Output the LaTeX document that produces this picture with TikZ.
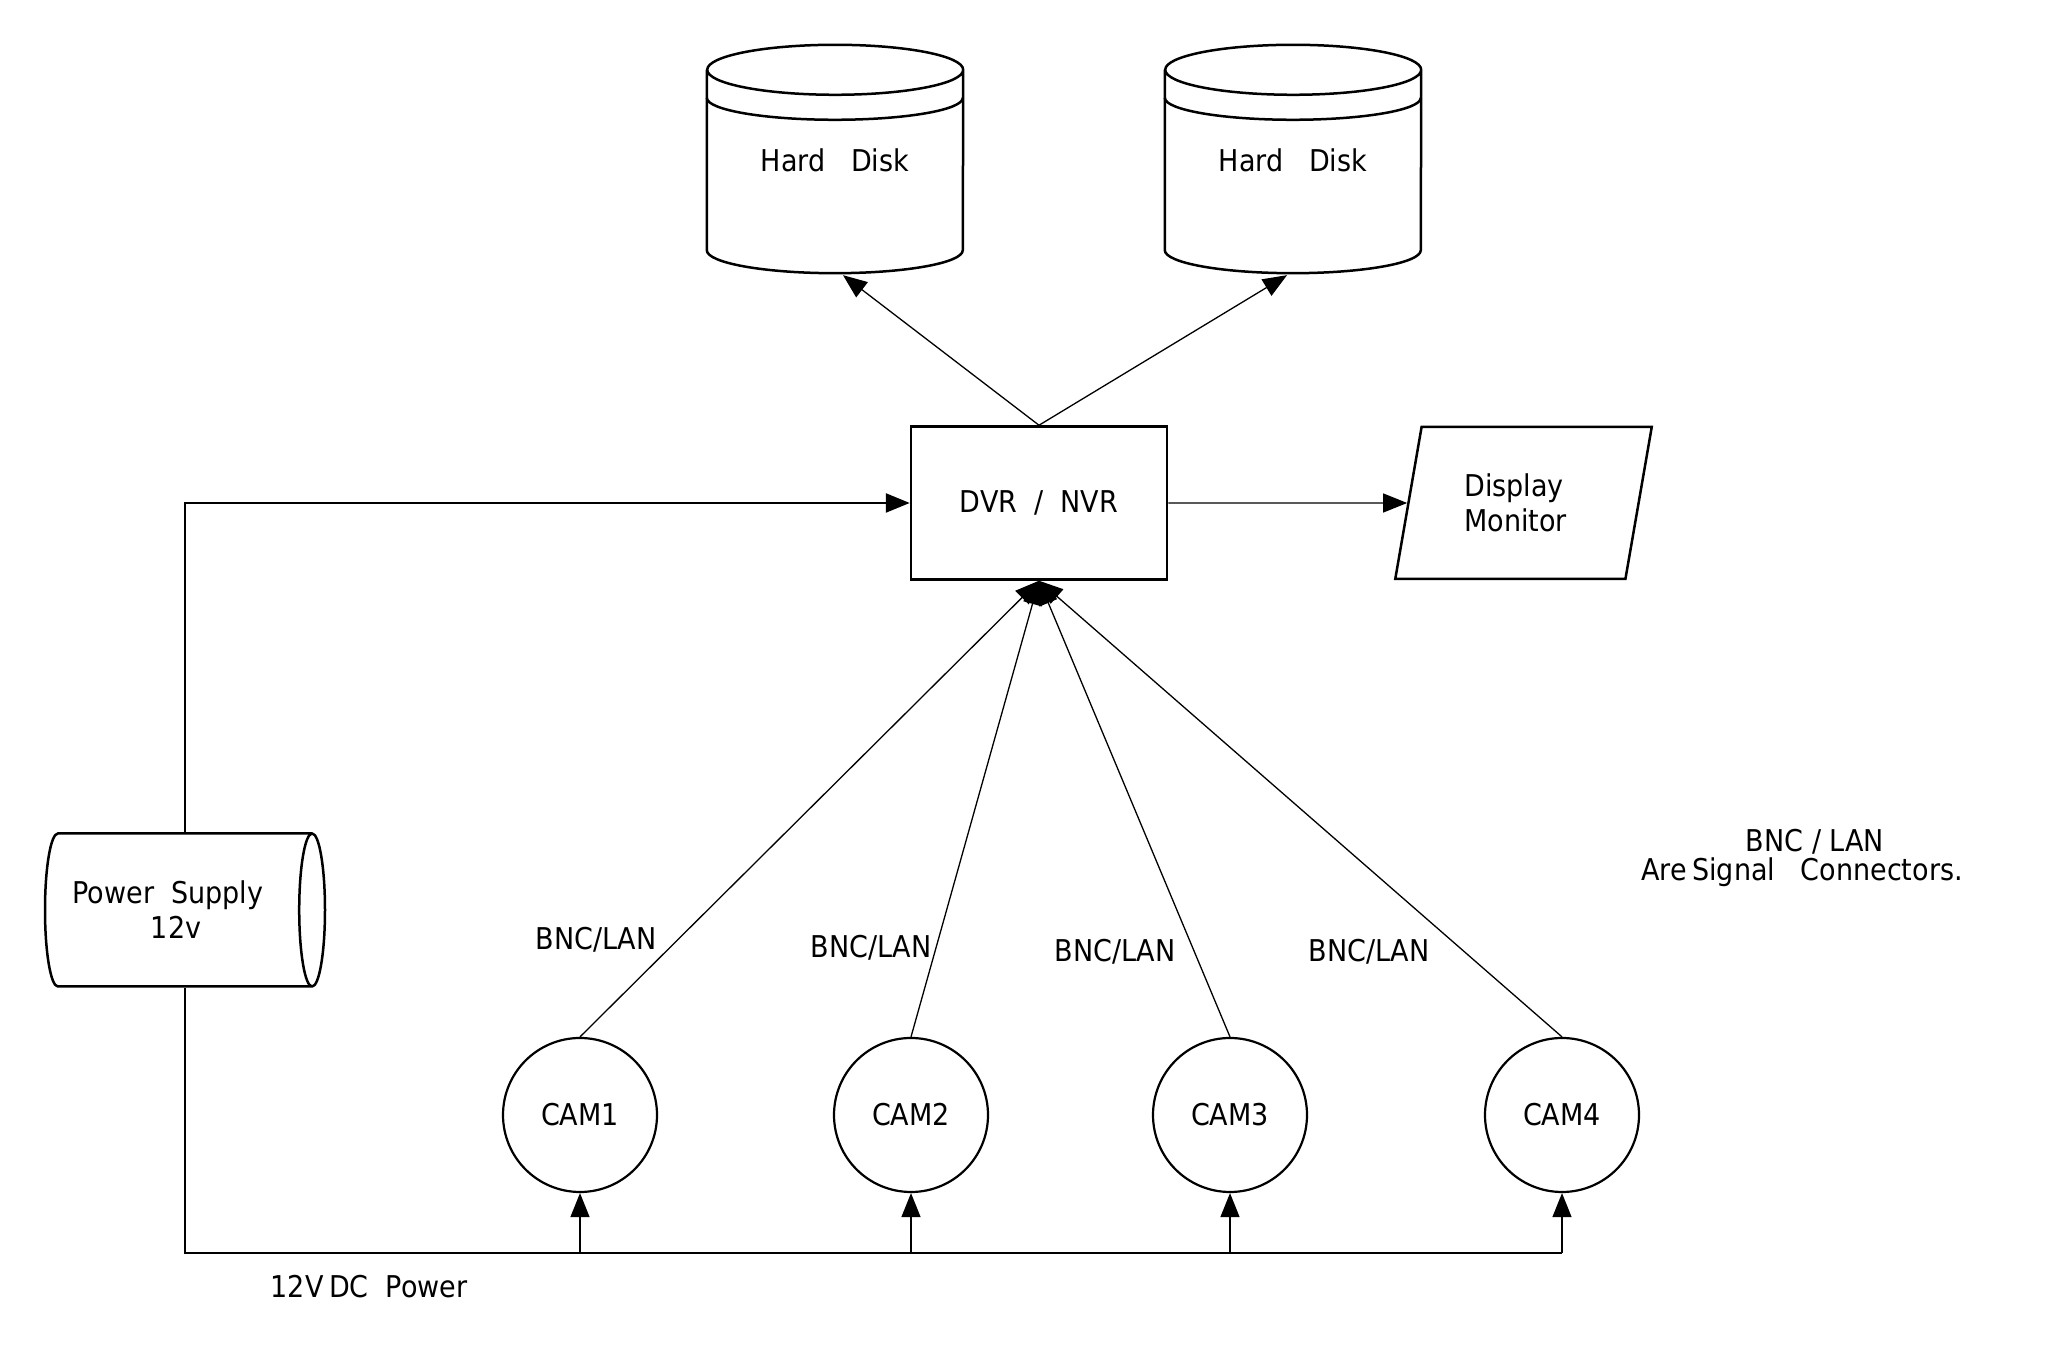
\documentclass[tikz,border=0pt]{standalone}
\usepackage{fontspec}
\setmainfont{DejaVu Sans Condensed}
\usepackage{tikz}
\usetikzlibrary{shapes.geometric,arrows.meta}

\begin{document}
\begin{tikzpicture}[x=100pt,y=100pt,
	font=\fontsize{30pt}{35pt}\selectfont,
	outline/.style={draw=black,line width=2.5pt},
	box/.style={shape=rectangle,outline,minimum width=256pt,minimum height=153pt},
	disk/.style={shape=rectangle,minimum width=256pt,minimum height=180pt,inner sep=0pt},
	supply/.style={shape=cylinder,anchor=shape center,outline,minimum width=153pt,minimum height=280pt,aspect=0.4,align=center},
	monitor/.style={shape=trapezium,trapezium left angle=76,trapezium right angle=104,trapezium stretches=true,outline,minimum width=257pt,minimum height=152pt,align=left},
	cam/.style={shape=circle,draw=black,line width=2.2pt,minimum size=154pt,inner sep=0pt},
	signal/.style={line width=1.3pt,-{Triangle[length=24pt,width=19pt]}},
	power/.style={line width=2.5pt},
	feed/.style={line width=1.3pt}
	]
	\useasboundingbox (0, 0) rectangle (20.48, 13.51);

	\node[disk] (hd1) at (8.35, 11.91)     {Hard \ \ Disk};
	\node[disk] (hd2) at (12.93, 11.91)     {Hard \ \ Disk};
	\foreach \d in {hd1, hd2} {
		\draw[outline] (\d.north west) -- (\d.south west)
			arc[start angle=180, end angle=360, x radius=128pt, y radius=23pt]
			-- (\d.north east)
			arc[start angle=0, end angle=360, x radius=128pt, y radius=25pt];
		\draw[outline] ([yshift=-28pt]\d.north west) arc[start angle=180, end angle=360, x radius=128pt, y radius=22pt];
	}

	\node[box] (dvr) at (10.39, 8.48)     {DVR \ / \ NVR};
	\node[monitor] (mon) at (15.235, 8.48)     {Display\\Monitor\hspace*{16pt}};
	\node[supply] (ps) at (1.85, 4.41)     {Power \ Supply\hspace*{16pt}\\12v};

	\node[cam] (c1) at (5.80, 2.36)     {CAM1};
	\node[cam] (c2) at (9.11, 2.36)     {CAM2};
	\node[cam] (c3) at (12.30, 2.36)     {CAM3};
	\node[cam] (c4) at (15.62, 2.36)     {CAM4};

	\coordinate (bus) at (1.85, 0.98);

	\node (l1) at (5.96, 4.11)     {BNC/LAN};
	\node (l2) at (8.71, 4.03)     {BNC/LAN};
	\node (l3) at (11.15, 3.99)     {BNC/LAN};
	\node (l4) at (13.69, 3.99)     {BNC/LAN};
	\node (n1) at (18.15, 5.09)     {BNC / LAN};
	\node (n2) at (18.02, 4.79)     {Are\hspace{-3pt} Signal \ \ Connectors.};
	\node (dc) at (3.69, 0.64)     {12V\hspace{-3pt} DC \ Power};

	\draw[signal] (dvr.north) -- ([shift={(8pt,-25pt)}]hd1.south);
	\draw[signal] (dvr.north) -- ([shift={(-6pt,-25pt)}]hd2.south);
	\draw[signal] (dvr.east) -- (mon.west);

	\draw[signal] (c1.north) -- (dvr.south);
	\draw[signal] (c2.north) -- (dvr.south);
	\draw[signal] (c3.north) -- (dvr.south);
	\draw[signal] (c4.north) -- (dvr.south);

	\draw[power,-{Triangle[length=24pt,width=19pt]}] (ps.north -| bus) |- (dvr.west);
	\draw[power] (ps.south -| bus) -- (bus) -- (bus -| c2.south);
	\draw[feed] (bus -| c2.south) -- (bus -| c4.south);

	\draw[signal] (bus -| c1.south) -- (c1.south);
	\draw[signal] (bus -| c2.south) -- (c2.south);
	\draw[signal] (bus -| c3.south) -- (c3.south);
	\draw[signal] (bus -| c4.south) -- (c4.south);

\end{tikzpicture}
\end{document}
